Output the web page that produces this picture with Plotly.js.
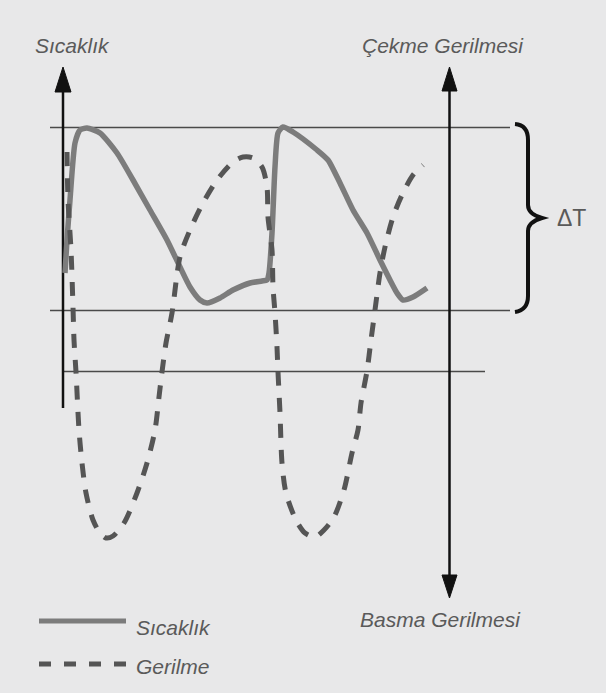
<!DOCTYPE html>
<html>
<head>
<meta charset="utf-8">
<script src="https://cdn.plot.ly/plotly-3.0.1.min.js"></script>
<style>html,body{margin:0;padding:0;background:#e8e8e9;}#chart{width:606px;height:693px;}</style>
</head>
<body>
<div id="chart"></div>
<script>
// Schematic values (horizontal = time, vertical = level, picture units, downward positive)
const tempX = [65, 67, 70, 75, 80, 87, 100, 117, 133, 150, 167, 180, 190, 200, 207, 220, 233, 250, 262, 267, 269, 272, 275, 278, 283, 293, 317, 328, 340, 353, 367, 380, 390, 397, 403, 413, 427];
const tempY = [273, 240, 200, 143, 130, 128, 133, 153, 180, 210, 240, 267, 287, 300, 303, 298, 290, 283, 281, 280, 273, 233, 167, 133, 127, 132, 150, 160, 183, 210, 233, 260, 280, 293, 300, 297, 288];

const stressX = [67, 68, 71, 73, 74, 76, 79, 82, 86, 93, 100, 106, 113, 124, 137, 147, 155, 159, 162, 166, 172, 180, 190, 203, 217, 233, 243, 253, 262, 267, 268, 272, 273, 275, 277, 278, 280, 282, 286, 296, 305, 315, 324, 334, 344, 352, 358, 361, 367, 371, 375, 380, 385, 393, 402, 413, 423];
const stressY = [152, 200, 250, 307, 340, 372, 430, 463, 493, 520, 533, 538, 536, 523, 493, 463, 430, 397, 372, 343, 313, 257, 230, 203, 180, 162, 157, 158, 167, 187, 217, 250, 287, 313, 347, 372, 413, 463, 493, 520, 533, 537, 530, 517, 490, 453, 430, 403, 371, 340, 310, 273, 247, 217, 195, 175, 165];

const seriesNames = ["Sıcaklık", "Gerilme"];
const axisLabels = ["Sıcaklık", "Çekme Gerilmesi", "Basma Gerilmesi", "ΔT"];

const solidColor = "#7c7c7c";
const dashColor = "#555555";
const textColor = "#5a5a5a";
const fontFam = "Liberation Sans, Arial, sans-serif";

const traces = [
  {x: tempX, y: tempY, mode: "lines", name: seriesNames[0],
   line: {color: solidColor, width: 5.5, shape: "spline", smoothing: 0.6}, hoverinfo: "skip"},
  {x: stressX, y: stressY, mode: "lines", name: seriesNames[1],
   line: {color: dashColor, width: 5, dash: "14px,12px", shape: "spline", smoothing: 0.8}, hoverinfo: "skip"}
];

function ln(x0, y0, x1, y1, color, width, dash) {
  return {type: "line", xref: "x", yref: "y", x0: x0, y0: y0, x1: x1, y1: y1,
          line: {color: color, width: width, dash: dash || "solid"}, layer: "below"};
}
function path(d, fill, color, width) {
  return {type: "path", xref: "x", yref: "y", path: d, fillcolor: fill,
          line: {color: color, width: width}, layer: "above"};
}

const shapes = [
  // horizontal reference lines
  ln(50, 127.5, 510, 127.5, "#4a4a4a", 1.5),
  ln(50, 310.5, 510, 310.5, "#4a4a4a", 1.5),
  ln(63, 371.5, 485, 371.5, "#4a4a4a", 1.5),
  // left axis
  ln(63, 408, 63, 88, "#111", 2.5),
  path("M 55,92 L 63,67 L 71,92 Z", "#111", "#111", 1),
  // right axis
  ln(449.5, 88, 449.5, 578, "#111", 2.5),
  path("M 442,91 L 449.5,67 L 457,91 Z", "#111", "#111", 1),
  path("M 442,575 L 449.5,598 L 457,575 Z", "#111", "#111", 1),
  // brace
  {type: "path", xref: "x", yref: "y",
   path: "M 515,124 Q 528,125 528,140 L 528,205 Q 528,214 542,218 Q 528,222 528,231 L 528,296 Q 528,310 515,312",
   line: {color: "#111", width: 4}, layer: "above"},
  // legend samples
  ln(39, 621, 126, 621, solidColor, 5),
  ln(39, 664, 126, 664, dashColor, 5, "12px,13px")
];

function txt(t, x, y, size, italic) {
  return {text: t, x: x, y: y, xref: "x", yref: "y", xanchor: "left", yanchor: "middle",
          showarrow: false, font: {family: fontFam, size: size, color: textColor, style: italic ? "italic" : "normal"}};
}

const annotations = [
  txt(axisLabels[0], 33, 45, 21, true),
  txt(axisLabels[1], 360, 45, 21, true),
  txt(axisLabels[2], 358, 619, 21, true),
  txt(axisLabels[3], 555, 218, 23, false),
  txt(seriesNames[0], 134, 627, 21, true),
  txt(seriesNames[1], 134, 666, 21, true)
];

const layout = {
  width: 606, height: 693,
  margin: {l: 0, r: 0, t: 0, b: 0},
  paper_bgcolor: "#e8e8e9", plot_bgcolor: "#e8e8e9",
  showlegend: false,
  xaxis: {range: [0, 606], visible: false, fixedrange: true},
  yaxis: {range: [693, 0], visible: false, fixedrange: true},
  shapes: shapes,
  annotations: annotations
};

Plotly.newPlot("chart", traces, layout, {displayModeBar: false, staticPlot: true});
</script>
</body>
</html>
